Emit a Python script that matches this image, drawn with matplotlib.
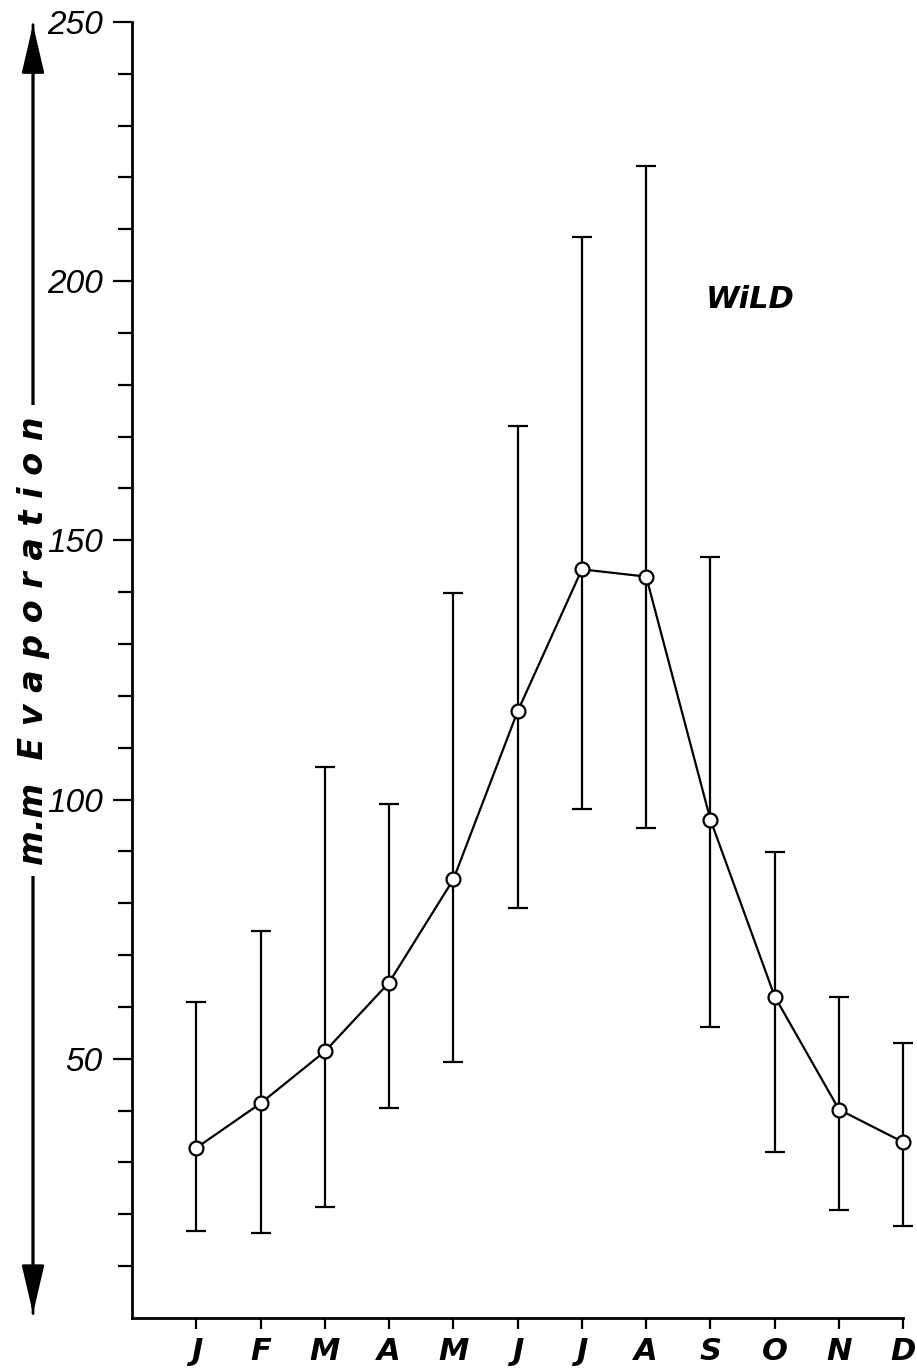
import numpy as np
from matplotlib import pyplot as plt

months = ['J', 'F', 'M', 'A', 'M', 'J', 'J', 'A', 'S', 'O', 'N', 'D']
mean = [32.8, 41.4, 51.4, 64.7, 84.6, 117.0, 144.4, 143.0, 96.1, 62.0, 40.2, 33.9]
upper = [60.9, 74.6, 106.2, 99.1, 139.9, 172.0, 208.6, 222.3, 146.7, 89.9, 62.0, 53.0]
lower = [16.8, 16.3, 21.4, 40.4, 49.3, 79.0, 98.2, 94.6, 56.1, 32.0, 20.9, 17.8]
ylabels = [50, 100, 150, 200, 250]

x = np.arange(1, len(months) + 1)
mean = np.array(mean)
err = [mean - np.array(lower), np.array(upper) - mean]

fig = plt.figure(figsize=(9.17, 13.69), dpi=100)
ax = fig.add_axes([0.144, 0.0373, 0.841, 0.9467])
ax.set_zorder(2)
ax.patch.set_alpha(0)

eb = ax.errorbar(x, mean, yerr=err, fmt='none', ecolor='k', elinewidth=1.6, capsize=7, capthick=1.6)
for part in eb.lines[1] + eb.lines[2]:
    part.set_clip_on(False)
ax.plot(x, mean, color='k', lw=1.6, marker='o', ms=10, mfc='white', mec='k', mew=1.6,
        zorder=3, clip_on=False)

ax.set_xlim(0, 12)
ax.set_ylim(0, 250)
ax.spines['top'].set_visible(False)
ax.spines['right'].set_visible(False)
ax.spines['left'].set_linewidth(2)
ax.spines['bottom'].set_linewidth(2)

ax.set_xticks(x)
ax.set_xticklabels(months, fontsize=22, fontweight='bold', style='italic', family='DejaVu Sans')
ax.tick_params(axis='x', direction='out', length=8, width=1.6, pad=6)

ax.set_yticks(ylabels)
ax.set_yticklabels([str(v) for v in ylabels], fontsize=24, style='italic', family='Liberation Sans')
ax.set_yticks(np.arange(10, 251, 10), minor=True)
ax.tick_params(axis='y', which='major', direction='out', length=14, width=1.6, pad=7)
ax.tick_params(axis='y', which='minor', direction='out', length=10, width=1.6)

ax.text(9.62, 196.5, 'WiLD', fontsize=22, fontweight='bold', style='italic',
        ha='center', va='center', family='DejaVu Sans')

# y label between two arrows
for a, b in [((0.036, 0.0385), (0.036, 0.984)), ((0.036, 0.984), (0.036, 0.0385))]:
    arr = plt.matplotlib.patches.FancyArrowPatch(
        a, b, transform=fig.transFigure,
        arrowstyle='-|>,head_length=1.5,head_width=0.35', mutation_scale=20,
        color='k', lw=2, zorder=0)
    fig.patches.append(arr)
fig.text(0.036, 0.532, 'm.m  E v a p o r a t i o n', rotation=90, fontsize=24,
         fontweight='bold', style='italic', ha='center', va='center', family='DejaVu Sans',
         bbox=dict(facecolor='white', edgecolor='none', pad=8), zorder=1)

plt.savefig('out.png')
